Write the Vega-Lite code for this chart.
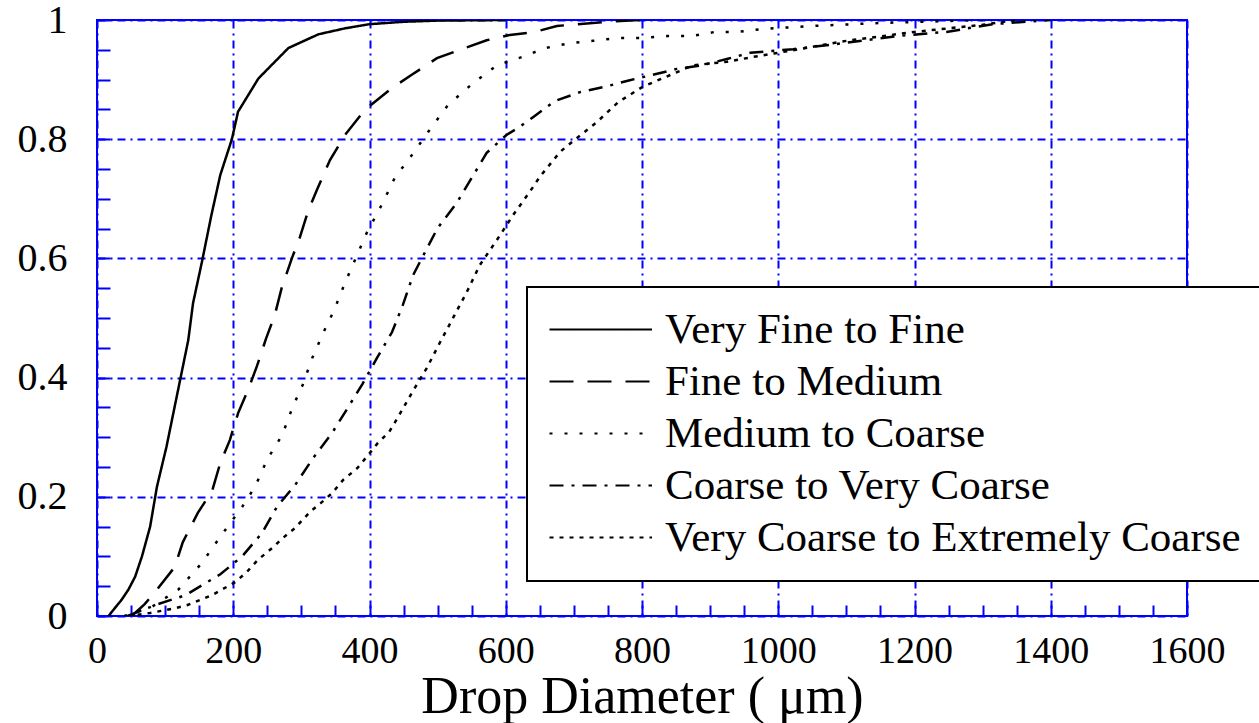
{
  "$schema": "https://vega.github.io/schema/vega-lite/v6.json",
  "width": 1090,
  "height": 596,
  "autosize": {"type": "none"},
  "padding": {"left": 97, "top": 20, "right": 72, "bottom": 107},
  "background": "white",
  "config": {
    "view": {"stroke": "#0000ff", "strokeWidth": 2},
    "legend": {"strokeWidth": 2}
  },
  "data": {"values": [
    {"s":"Very Fine to Fine","x":17,"y":0},{"s":"Very Fine to Fine","x":26,"y":0.013},{"s":"Very Fine to Fine","x":36,"y":0.027},{"s":"Very Fine to Fine","x":46,"y":0.044},{"s":"Very Fine to Fine","x":56,"y":0.066},{"s":"Very Fine to Fine","x":66,"y":0.1},{"s":"Very Fine to Fine","x":78,"y":0.15},{"s":"Very Fine to Fine","x":88,"y":0.217},{"s":"Very Fine to Fine","x":102,"y":0.284},{"s":"Very Fine to Fine","x":117,"y":0.368},{"s":"Very Fine to Fine","x":134,"y":0.463},{"s":"Very Fine to Fine","x":141,"y":0.525},{"s":"Very Fine to Fine","x":154,"y":0.594},{"s":"Very Fine to Fine","x":168,"y":0.673},{"s":"Very Fine to Fine","x":181,"y":0.74},{"s":"Very Fine to Fine","x":198,"y":0.8},{"s":"Very Fine to Fine","x":207,"y":0.846},{"s":"Very Fine to Fine","x":237,"y":0.902},{"s":"Very Fine to Fine","x":281,"y":0.953},{"s":"Very Fine to Fine","x":325,"y":0.976},{"s":"Very Fine to Fine","x":364,"y":0.986},{"s":"Very Fine to Fine","x":400,"y":0.993},{"s":"Very Fine to Fine","x":450,"y":0.997},{"s":"Very Fine to Fine","x":500,"y":0.999},{"s":"Very Fine to Fine","x":600,"y":1},
    {"s":"Fine to Medium","x":51,"y":0},{"s":"Fine to Medium","x":70,"y":0.02},{"s":"Fine to Medium","x":85,"y":0.04},{"s":"Fine to Medium","x":114,"y":0.082},{"s":"Fine to Medium","x":126,"y":0.124},{"s":"Fine to Medium","x":148,"y":0.173},{"s":"Fine to Medium","x":169,"y":0.21},{"s":"Fine to Medium","x":181,"y":0.257},{"s":"Fine to Medium","x":195,"y":0.295},{"s":"Fine to Medium","x":207,"y":0.34},{"s":"Fine to Medium","x":222,"y":0.38},{"s":"Fine to Medium","x":235,"y":0.42},{"s":"Fine to Medium","x":248,"y":0.465},{"s":"Fine to Medium","x":261,"y":0.505},{"s":"Fine to Medium","x":271,"y":0.55},{"s":"Fine to Medium","x":286,"y":0.6},{"s":"Fine to Medium","x":298,"y":0.636},{"s":"Fine to Medium","x":310,"y":0.68},{"s":"Fine to Medium","x":324,"y":0.718},{"s":"Fine to Medium","x":342,"y":0.765},{"s":"Fine to Medium","x":364,"y":0.807},{"s":"Fine to Medium","x":393,"y":0.849},{"s":"Fine to Medium","x":433,"y":0.886},{"s":"Fine to Medium","x":462,"y":0.908},{"s":"Fine to Medium","x":499,"y":0.936},{"s":"Fine to Medium","x":533,"y":0.95},{"s":"Fine to Medium","x":572,"y":0.966},{"s":"Fine to Medium","x":606,"y":0.975},{"s":"Fine to Medium","x":643,"y":0.98},{"s":"Fine to Medium","x":675,"y":0.99},{"s":"Fine to Medium","x":749,"y":0.997},{"s":"Fine to Medium","x":800,"y":1},
    {"s":"Medium to Coarse","x":40,"y":0},{"s":"Medium to Coarse","x":80,"y":0.015},{"s":"Medium to Coarse","x":120,"y":0.045},{"s":"Medium to Coarse","x":154,"y":0.089},{"s":"Medium to Coarse","x":181,"y":0.133},{"s":"Medium to Coarse","x":213,"y":0.183},{"s":"Medium to Coarse","x":232,"y":0.217},{"s":"Medium to Coarse","x":250,"y":0.263},{"s":"Medium to Coarse","x":272,"y":0.304},{"s":"Medium to Coarse","x":287,"y":0.35},{"s":"Medium to Coarse","x":302,"y":0.388},{"s":"Medium to Coarse","x":316,"y":0.433},{"s":"Medium to Coarse","x":332,"y":0.475},{"s":"Medium to Coarse","x":348,"y":0.513},{"s":"Medium to Coarse","x":364,"y":0.559},{"s":"Medium to Coarse","x":396,"y":0.643},{"s":"Medium to Coarse","x":418,"y":0.69},{"s":"Medium to Coarse","x":437,"y":0.735},{"s":"Medium to Coarse","x":462,"y":0.773},{"s":"Medium to Coarse","x":486,"y":0.812},{"s":"Medium to Coarse","x":515,"y":0.857},{"s":"Medium to Coarse","x":552,"y":0.894},{"s":"Medium to Coarse","x":587,"y":0.924},{"s":"Medium to Coarse","x":624,"y":0.938},{"s":"Medium to Coarse","x":658,"y":0.953},{"s":"Medium to Coarse","x":694,"y":0.961},{"s":"Medium to Coarse","x":728,"y":0.965},{"s":"Medium to Coarse","x":765,"y":0.97},{"s":"Medium to Coarse","x":797,"y":0.97},{"s":"Medium to Coarse","x":837,"y":0.973},{"s":"Medium to Coarse","x":873,"y":0.973},{"s":"Medium to Coarse","x":907,"y":0.98},{"s":"Medium to Coarse","x":941,"y":0.98},{"s":"Medium to Coarse","x":978,"y":0.985},{"s":"Medium to Coarse","x":1050,"y":0.99},{"s":"Medium to Coarse","x":1150,"y":0.995},{"s":"Medium to Coarse","x":1300,"y":1},
    {"s":"Coarse to Very Coarse","x":45,"y":0},{"s":"Coarse to Very Coarse","x":60,"y":0.007},{"s":"Coarse to Very Coarse","x":90,"y":0.02},{"s":"Coarse to Very Coarse","x":130,"y":0.035},{"s":"Coarse to Very Coarse","x":181,"y":0.07},{"s":"Coarse to Very Coarse","x":213,"y":0.1},{"s":"Coarse to Very Coarse","x":242,"y":0.139},{"s":"Coarse to Very Coarse","x":264,"y":0.183},{"s":"Coarse to Very Coarse","x":291,"y":0.22},{"s":"Coarse to Very Coarse","x":316,"y":0.263},{"s":"Coarse to Very Coarse","x":345,"y":0.307},{"s":"Coarse to Very Coarse","x":368,"y":0.349},{"s":"Coarse to Very Coarse","x":390,"y":0.39},{"s":"Coarse to Very Coarse","x":411,"y":0.433},{"s":"Coarse to Very Coarse","x":433,"y":0.476},{"s":"Coarse to Very Coarse","x":449,"y":0.522},{"s":"Coarse to Very Coarse","x":464,"y":0.572},{"s":"Coarse to Very Coarse","x":500,"y":0.651},{"s":"Coarse to Very Coarse","x":528,"y":0.693},{"s":"Coarse to Very Coarse","x":550,"y":0.735},{"s":"Coarse to Very Coarse","x":572,"y":0.777},{"s":"Coarse to Very Coarse","x":601,"y":0.807},{"s":"Coarse to Very Coarse","x":618,"y":0.819},{"s":"Coarse to Very Coarse","x":640,"y":0.837},{"s":"Coarse to Very Coarse","x":672,"y":0.864},{"s":"Coarse to Very Coarse","x":709,"y":0.879},{"s":"Coarse to Very Coarse","x":746,"y":0.888},{"s":"Coarse to Very Coarse","x":782,"y":0.899},{"s":"Coarse to Very Coarse","x":816,"y":0.908},{"s":"Coarse to Very Coarse","x":851,"y":0.918},{"s":"Coarse to Very Coarse","x":888,"y":0.924},{"s":"Coarse to Very Coarse","x":926,"y":0.935},{"s":"Coarse to Very Coarse","x":959,"y":0.945},{"s":"Coarse to Very Coarse","x":1022,"y":0.951},{"s":"Coarse to Very Coarse","x":1095,"y":0.961},{"s":"Coarse to Very Coarse","x":1174,"y":0.973},{"s":"Coarse to Very Coarse","x":1247,"y":0.98},{"s":"Coarse to Very Coarse","x":1315,"y":0.993},{"s":"Coarse to Very Coarse","x":1400,"y":1},
    {"s":"Very Coarse to Extremely Coarse","x":45,"y":0},{"s":"Very Coarse to Extremely Coarse","x":78,"y":0.005},{"s":"Very Coarse to Extremely Coarse","x":114,"y":0.013},{"s":"Very Coarse to Extremely Coarse","x":132,"y":0.018},{"s":"Very Coarse to Extremely Coarse","x":169,"y":0.035},{"s":"Very Coarse to Extremely Coarse","x":203,"y":0.057},{"s":"Very Coarse to Extremely Coarse","x":220,"y":0.074},{"s":"Very Coarse to Extremely Coarse","x":236,"y":0.094},{"s":"Very Coarse to Extremely Coarse","x":257,"y":0.114},{"s":"Very Coarse to Extremely Coarse","x":273,"y":0.131},{"s":"Very Coarse to Extremely Coarse","x":291,"y":0.148},{"s":"Very Coarse to Extremely Coarse","x":313,"y":0.175},{"s":"Very Coarse to Extremely Coarse","x":330,"y":0.191},{"s":"Very Coarse to Extremely Coarse","x":345,"y":0.206},{"s":"Very Coarse to Extremely Coarse","x":361,"y":0.228},{"s":"Very Coarse to Extremely Coarse","x":382,"y":0.248},{"s":"Very Coarse to Extremely Coarse","x":398,"y":0.27},{"s":"Very Coarse to Extremely Coarse","x":412,"y":0.29},{"s":"Very Coarse to Extremely Coarse","x":429,"y":0.309},{"s":"Very Coarse to Extremely Coarse","x":442,"y":0.334},{"s":"Very Coarse to Extremely Coarse","x":462,"y":0.374},{"s":"Very Coarse to Extremely Coarse","x":484,"y":0.416},{"s":"Very Coarse to Extremely Coarse","x":503,"y":0.458},{"s":"Very Coarse to Extremely Coarse","x":524,"y":0.503},{"s":"Very Coarse to Extremely Coarse","x":543,"y":0.544},{"s":"Very Coarse to Extremely Coarse","x":562,"y":0.589},{"s":"Very Coarse to Extremely Coarse","x":587,"y":0.631},{"s":"Very Coarse to Extremely Coarse","x":611,"y":0.673},{"s":"Very Coarse to Extremely Coarse","x":636,"y":0.713},{"s":"Very Coarse to Extremely Coarse","x":650,"y":0.737},{"s":"Very Coarse to Extremely Coarse","x":680,"y":0.779},{"s":"Very Coarse to Extremely Coarse","x":699,"y":0.797},{"s":"Very Coarse to Extremely Coarse","x":734,"y":0.829},{"s":"Very Coarse to Extremely Coarse","x":765,"y":0.862},{"s":"Very Coarse to Extremely Coarse","x":801,"y":0.888},{"s":"Very Coarse to Extremely Coarse","x":875,"y":0.924},{"s":"Very Coarse to Extremely Coarse","x":925,"y":0.93},{"s":"Very Coarse to Extremely Coarse","x":963,"y":0.938},{"s":"Very Coarse to Extremely Coarse","x":1000,"y":0.945},{"s":"Very Coarse to Extremely Coarse","x":1050,"y":0.955},{"s":"Very Coarse to Extremely Coarse","x":1100,"y":0.965},{"s":"Very Coarse to Extremely Coarse","x":1200,"y":0.98},{"s":"Very Coarse to Extremely Coarse","x":1300,"y":0.992},{"s":"Very Coarse to Extremely Coarse","x":1350,"y":1}
  ]},
  "mark": {"type": "line", "color": "black", "strokeWidth": 2.5, "clip": true},
  "encoding": {
    "x": {"field": "x", "type": "quantitative",
      "scale": {"domain": [0, 1600], "nice": false, "zero": false},
      "axis": {"orient": "bottom",
        "values": [0,50,100,150,200,250,300,350,400,450,500,550,600,650,700,750,800,850,900,950,1000,1050,1100,1150,1200,1250,1300,1350,1400,1450,1500,1550,1600],
        "labelExpr": "datum.value % 200 === 0 ? '' + datum.value : ''",
        "grid": true, "gridColor": "#0000ff", "gridDash": [8,5,2,5], "gridWidth": 2,
        "gridOpacity": {"condition": {"test": "datum.value % 200 === 0", "value": 1}, "value": 0},
        "ticks": true, "tickSize": -11, "tickColor": "#0000ff", "tickWidth": 2,
        "domain": false, "labelFlush": false, "labelOverlap": false,
        "labelFont": "Liberation Serif", "labelFontSize": 38, "labelColor": "black", "labelPadding": 27,
        "title": "Drop Diameter ( μm)", "titleFont": "Liberation Serif", "titleFontSize": 52,
        "titleFontWeight": "normal", "titleColor": "black", "titlePadding": 1}},
    "y": {"field": "y", "type": "quantitative",
      "scale": {"domain": [0, 1], "nice": false, "zero": false},
      "axis": {"orient": "left",
        "values": [0,0.05,0.1,0.15,0.2,0.25,0.3,0.35,0.4,0.45,0.5,0.55,0.6,0.65,0.7,0.75,0.8,0.85,0.9,0.95,1],
        "labelExpr": "abs(datum.value*5 - round(datum.value*5)) < 0.001 ? '' + datum.value : ''",
        "grid": true, "gridColor": "#0000ff", "gridDash": [8,5,2,5], "gridWidth": 2,
        "gridOpacity": {"condition": {"test": "abs(datum.value*5 - round(datum.value*5)) < 0.001", "value": 1}, "value": 0},
        "ticks": true, "tickSize": -13, "tickColor": "#0000ff", "tickWidth": 2,
        "domain": false, "labelFlush": false, "labelOverlap": false,
        "labelFont": "Liberation Serif", "labelFontSize": 40, "labelColor": "black", "labelPadding": 43,
        "title": null}},
    "strokeDash": {"field": "s", "type": "nominal",
      "sort": ["Very Fine to Fine","Fine to Medium","Medium to Coarse","Coarse to Very Coarse","Very Coarse to Extremely Coarse"],
      "scale": {"domain": ["Very Fine to Fine","Fine to Medium","Medium to Coarse","Coarse to Very Coarse","Very Coarse to Extremely Coarse"],
        "range": [[1,0],[24,14],[3,12],[14,8,3,8],[4,6]]},
      "legend": {"title": null, "orient": "none", "legendX": 430, "legendY": 267,
        "fillColor": "white", "strokeColor": "black", "padding": 21,
        "symbolType": "M-1.333,0H5.5", "symbolSize": 900, "symbolStrokeWidth": 2, "symbolStrokeColor": "black",
        "labelOffset": 74, "labelFont": "Liberation Serif", "labelFontSize": 43, "labelColor": "black",
        "labelLimit": 0, "rowPadding": 8}}
  }
}
